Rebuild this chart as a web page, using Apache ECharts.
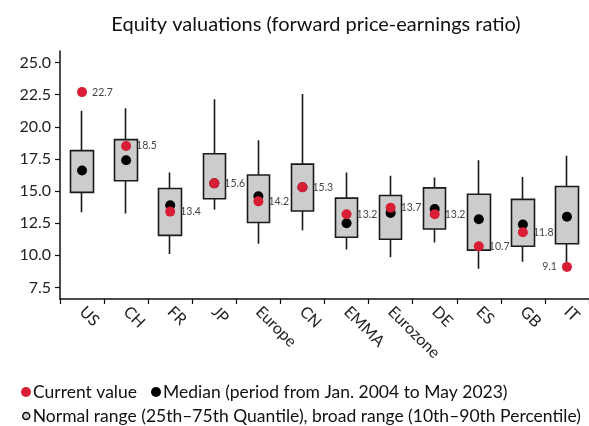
<!DOCTYPE html>
<html>
<head>
<meta charset="utf-8">
<script src="https://cdn.jsdelivr.net/npm/echarts@6/dist/echarts.min.js"></script>
<style>
  html, body { margin: 0; padding: 0; background: #fff; }
  #chart { width: 589px; height: 426px; }
</style>
</head>
<body>
<div id="chart"></div>
<script>
// data
const categories = ['US', 'CH', 'FR', 'JP', 'Europe', 'CN', 'EMMA', 'Eurozone', 'DE', 'ES', 'GB', 'IT']
const current = [22.7, 18.5, 13.4, 15.6, 14.2, 15.3, 13.2, 13.7, 13.2, 10.7, 11.8, 9.1]
const median = [16.6, 17.4, 13.9, 15.6, 14.6, 15.3, 12.5, 13.3, 13.6, 12.8, 12.4, 13.0]
const q25 = [14.9, 15.8, 11.55, 14.4, 12.55, 13.45, 11.4, 11.25, 12.05, 10.4, 10.7, 10.9]
const q75 = [18.15, 19.0, 15.2, 17.9, 16.25, 17.1, 14.45, 14.65, 15.25, 14.75, 14.35, 15.35]
const p10 = [13.35, 13.25, 10.1, 13.55, 10.9, 11.95, 10.45, 9.85, 11.0, 8.95, 9.5, 9.1]
const p90 = [21.25, 21.45, 16.45, 22.15, 18.95, 22.55, 16.45, 16.2, 16.05, 17.4, 16.1, 17.75]
const yTicks = [7.5, 10, 12.5, 15, 17.5, 20, 22.5, 25]

const nameCurrent = 'Current value'
const nameMedian = 'Median (period from Jan. 2004 to May 2023)'
const nameRange = 'Normal range (25th\u201375th Quantile), broad range (10th\u201390th Percentile)'

const red = '#d81e34'
const font = 'Lato'

let myChart = echarts.init(document.getElementById('chart'))

// candlestick: [open, close, lowest, highest] -> box q25..q75, wick p10..p90
const boxData = categories.map((c, i) => [q25[i], q75[i], p10[i], p90[i]])
const currentData = current.map((v, i) => {
    let d = { value: [categories[i], v] }
    if (categories[i] === 'IT') d.label = { position: 'left' }
    return d
})

let option = {
    animation: false,
    textStyle: { fontFamily: font },
    title: {
        text: 'Equity valuations (forward price-earnings ratio)',
        left: 311,
        textAlign: 'center',
        top: 10,
        textStyle: { fontFamily: font, fontWeight: 'normal', fontSize: 20, color: '#111' }
    },
    grid: { left: 60, right: -4, top: 51, bottom: 127 },
    legend: [
        {
            left: 16, top: 378, itemWidth: 10, itemHeight: 10, itemGap: 14,
            textStyle: { fontFamily: font, fontSize: 17.5, color: '#111', padding: [0, 0, 0, -3] },
            data: [
                { name: nameCurrent, icon: 'circle' },
                { name: nameMedian, icon: 'circle' }
            ]
        },
        {
            left: 17, top: 402, itemWidth: 7, itemHeight: 7,
            textStyle: { fontFamily: font, fontSize: 17.5, color: '#111', padding: [0, 0, 0, -2] },
            data: [
                { name: nameRange, icon: 'circle', itemStyle: { color: '#ccc', borderColor: '#111', borderWidth: 1.5 } }
            ]
        }
    ],
    xAxis: {
        type: 'category',
        data: categories,
        boundaryGap: true,
        axisLine: { lineStyle: { color: '#111', width: 1.5 } },
        axisTick: { show: true, length: 5, interval: 0, lineStyle: { color: '#111', width: 1.2 } },
        axisLabel: { rotate: -45, interval: 0, margin: 10, fontSize: 16, color: '#222', fontFamily: font }
    },
    yAxis: {
        type: 'value',
        min: 6.6,
        max: 25.9,
        splitLine: { show: false },
        axisLine: { show: true, lineStyle: { color: '#111', width: 1.5 } },
        axisTick: { show: true, length: 5, customValues: yTicks, lineStyle: { color: '#111', width: 1.2 } },
        axisLabel: {
            customValues: yTicks, fontSize: 16, color: '#222', margin: 9, fontFamily: font,
            formatter: v => v.toFixed(1)
        }
    },
    series: [
        {
            name: nameRange,
            type: 'candlestick',
            barWidth: 23,
            data: boxData,
            itemStyle: {
                color: '#cccccc', color0: '#cccccc',
                borderColor: '#1a1a1a', borderColor0: '#1a1a1a', borderColorDoji: '#1a1a1a',
                borderWidth: 1.6
            }
        },
        {
            name: nameMedian,
            type: 'scatter',
            symbolSize: 10,
            itemStyle: { color: '#000', opacity: 1 },
            data: median.map((v, i) => [categories[i], v])
        },
        {
            name: nameCurrent,
            type: 'scatter',
            symbolSize: 10,
            itemStyle: { color: red, opacity: 1 },
            label: {
                show: true, position: 'right', distance: 5,
                fontSize: 10.5, color: '#444', fontFamily: font,
                formatter: p => p.value[1].toFixed(1)
            },
            data: currentData
        }
    ]
}

myChart.setOption(option)
</script>
</body>
</html>
